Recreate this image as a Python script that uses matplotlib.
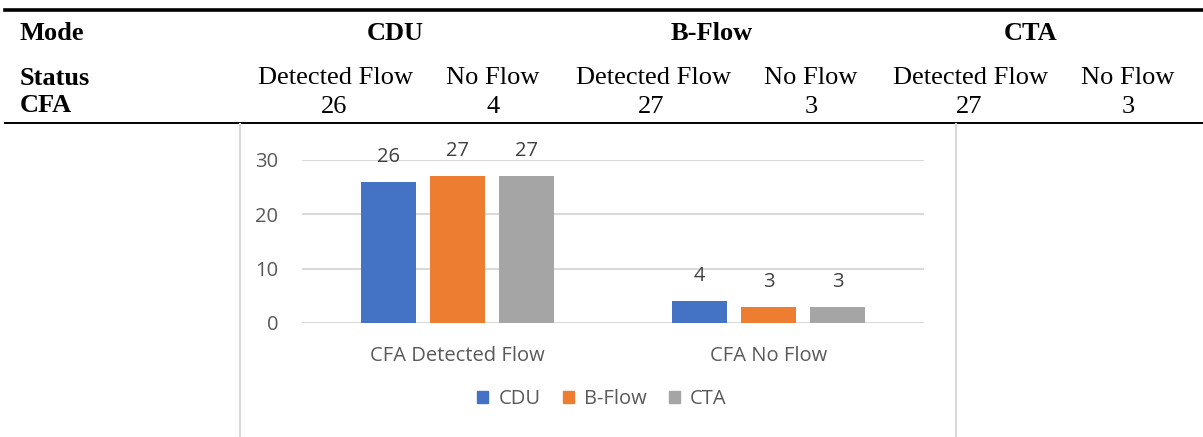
import numpy as np
import matplotlib.pyplot as plt
from matplotlib.lines import Line2D
from matplotlib.patches import Patch

# data
categories = ["CFA Detected Flow", "CFA No Flow"]
modes = ["CDU", "B-Flow", "CTA"]
detected = [26, 27, 27]
no_flow = [4, 3, 3]
colors = ["#4472C4", "#ED7D31", "#A5A5A5"]

W, H = 1203, 437
fig = plt.figure(figsize=(W / 100, H / 100), dpi=100)

def fx(px):
    return px / W

def fy(py):
    return 1 - py / H

# ---- table on top (Times-like) ----
serif = "Liberation Serif"
tsize = 19
fig.add_artist(Line2D([fx(5), fx(1203)], [fy(10), fy(10)], color="black", lw=2.6))
fig.add_artist(Line2D([fx(5), fx(1203)], [fy(122.5), fy(122.5)], color="black", lw=1.4))

fig.text(fx(20), fy(33), "Mode", family=serif, weight="bold", size=tsize, va="center")
fig.text(fx(20), fy(78.5), "Status", family=serif, weight="bold", size=tsize, va="center")
fig.text(fx(20), fy(106), "CFA", family=serif, weight="bold", size=tsize, va="center")

head_x = [395, 712, 1031]
det_x = [336, 653, 971]
nof_x = [493, 811, 1128]
for i, m in enumerate(modes):
    fig.text(fx(head_x[i]), fy(33), m, family=serif, weight="bold", size=tsize,
             ha="center", va="center")
    fig.text(fx(det_x[i]), fy(78.5), "Detected Flow", family=serif, size=tsize,
             ha="center", va="center")
    fig.text(fx(nof_x[i]), fy(78.5), "No Flow", family=serif, size=tsize,
             ha="center", va="center")
    fig.text(fx(det_x[i] - 2), fy(107), str(detected[i]), family=serif, size=tsize,
             ha="center", va="center")
    fig.text(fx(nof_x[i]), fy(107), str(no_flow[i]), family=serif, size=tsize,
             ha="center", va="center")

# light cell borders around chart
for x in [240, 956]:
    fig.add_artist(Line2D([fx(x), fx(x)], [fy(124), 0], color="#d9d9d9", lw=1.5))

# ---- bar chart ----
ax = fig.add_axes([fx(302), fy(323), fx(924) - fx(302), fy(160) - fy(323)])
font = "Open Sans"
gray = "#595959"
fsize = 14.5

x = np.arange(len(categories))
width = 0.174
offset = 0.222
for i, m in enumerate(modes):
    vals = [detected[i], no_flow[i]]
    bars = ax.bar(x + (i - 1) * offset, vals, width, color=colors[i], label=m, zorder=3)
    for b, v in zip(bars, vals):
        ax.annotate(str(v), (b.get_x() + b.get_width() / 2, v), xytext=(0, 18),
                    textcoords="offset points", ha="center", va="center",
                    family=font, size=fsize, color="#404040", annotation_clip=False)

ax.set_xlim(-0.5, 1.5)
ax.set_ylim(0, 30)
ax.set_yticks([0, 10, 20, 30])
ax.yaxis.grid(True, color="#d9d9d9", lw=1.5, zorder=0)
ax.set_axisbelow(True)
for s in ax.spines.values():
    s.set_visible(False)
ax.set_xticks(x)
ax.set_xticklabels(categories)
ax.tick_params(axis="both", length=0, labelcolor=gray, labelsize=fsize)
ax.tick_params(axis="y", pad=17)
ax.tick_params(axis="x", pad=16.5)
for lab in ax.get_xticklabels() + ax.get_yticklabels():
    lab.set_family(font)

handles = [Patch(color=c, label=m) for c, m in zip(colors, modes)]
leg = fig.legend(handles=handles, loc="center", bbox_to_anchor=(fx(602), fy(399)),
                 ncol=3, frameon=False, handlelength=0.55, handleheight=0.55,
                 handletextpad=0.5, columnspacing=1.1,
                 prop={"family": font, "size": fsize})
for t in leg.get_texts():
    t.set_color(gray)

fig.savefig("out.png", dpi=100)
